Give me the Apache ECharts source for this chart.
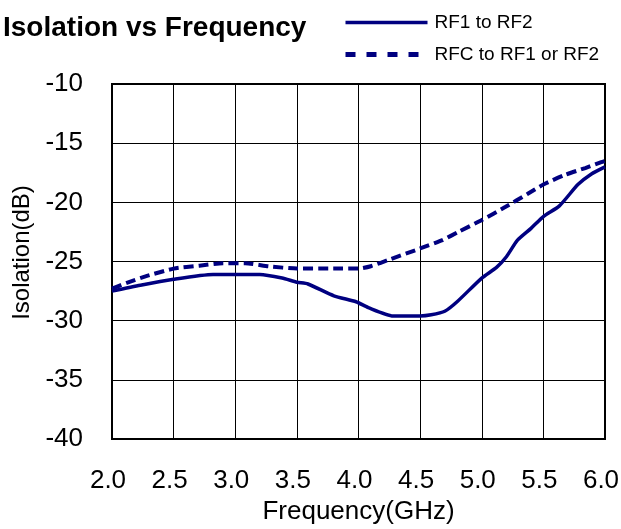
<!DOCTYPE html>
<html>
<head>
<meta charset="utf-8">
<script src="https://cdn.jsdelivr.net/npm/echarts@6/dist/echarts.min.js"></script>
<style>
  html, body { margin: 0; padding: 0; background: #fff; }
  #chart { width: 621px; height: 529px; }
</style>
</head>
<body>
<div id="chart"></div>
<script>
const freqRF1RF2 = [2.0, 2.23, 2.5, 2.82, 3.0, 3.2, 3.38, 3.5, 3.59, 3.8, 3.98, 4.08, 4.28, 4.5, 4.59, 4.7, 4.8, 5.0, 5.12, 5.2, 5.29, 5.4, 5.5, 5.63, 5.78, 5.89, 6.0]
const isoRF1RF2 = [-27.5, -27.0, -26.5, -26.1, -26.1, -26.1, -26.4, -26.75, -26.9, -27.9, -28.4, -28.9, -29.6, -29.6, -29.5, -29.2, -28.4, -26.4, -25.5, -24.6, -23.2, -22.2, -21.2, -20.3, -18.5, -17.6, -17.0]

const freqRFC = [2.0, 2.12, 2.29, 2.5, 2.71, 2.9, 3.08, 3.27, 3.5, 3.8, 4.0, 4.1, 4.26, 4.5, 4.68, 4.81, 5.0, 5.19, 5.37, 5.5, 5.67, 5.84, 5.97, 6.0]
const isoRFC = [-27.3, -26.8, -26.2, -25.6, -25.35, -25.15, -25.15, -25.4, -25.6, -25.6, -25.6, -25.4, -24.8, -23.9, -23.2, -22.5, -21.5, -20.4, -19.3, -18.5, -17.7, -17.1, -16.6, -16.5]

const seriesNames = ['RF1 to RF2', 'RFC to RF1 or RF2']

const navy = '#000080'
const font = 'Liberation Sans, Arial, sans-serif'

function pairs (xs, ys) {
  return xs.map((x, i) => [x, ys[i]])
}

const chart = echarts.init(document.getElementById('chart'), null, { renderer: 'canvas' })

chart.setOption({
  animation: false,
  title: {
    text: 'Isolation vs Frequency',
    left: 3,
    top: 14,
    padding: 0,
    textStyle: { fontFamily: font, fontSize: 28, fontWeight: 'bold', color: '#000' }
  },
  legend: {
    orient: 'vertical',
    left: 343,
    top: 13,
    padding: 0,
    itemWidth: 82,
    itemHeight: 14,
    itemGap: 13,
    itemStyle: { opacity: 0 },
    textStyle: { fontFamily: font, fontSize: 19, color: '#000', padding: [0, 0, 0, 2] },
    data: [
      { name: seriesNames[0], lineStyle: { width: 3.5 } },
      { name: seriesNames[1], lineStyle: { width: 5, type: [10, 11] } }
    ]
  },
  grid: {
    left: 112,
    right: 16,
    top: 84,
    bottom: 90,
    outerBoundsMode: 'none',
    show: true,
    borderColor: '#000',
    borderWidth: 2
  },
  xAxis: {
    type: 'value',
    min: 2,
    max: 6,
    interval: 0.5,
    name: 'Frequency(GHz)',
    nameLocation: 'middle',
    nameGap: 60,
    nameTextStyle: { fontFamily: font, fontSize: 26, color: '#000' },
    axisLine: { show: true, lineStyle: { color: '#000', width: 2 } },
    axisTick: { show: true, inside: true, length: 5, lineStyle: { color: '#000', width: 1 } },
    axisLabel: {
      fontFamily: font, fontSize: 26, color: '#000', margin: 29,
      padding: [0, 8, 0, 0],
      formatter: v => v.toFixed(1)
    },
    splitLine: { show: true, lineStyle: { color: '#000', width: 1 } }
  },
  yAxis: {
    type: 'value',
    min: -40,
    max: -10,
    interval: 5,
    name: 'Isolation(dB)',
    nameLocation: 'middle',
    nameGap: 78,
    nameTextStyle: { fontFamily: font, fontSize: 24, color: '#000', padding: [0, 0, 0, 18] },
    axisLine: { show: true, lineStyle: { color: '#000', width: 2 } },
    axisTick: { show: true, inside: true, length: 4, lineStyle: { color: '#000', width: 1 } },
    axisLabel: { fontFamily: font, fontSize: 26, color: '#000', margin: 29, padding: [6, 0, 0, 0] },
    splitLine: { show: true, lineStyle: { color: '#000', width: 1 } }
  },
  series: [{
    name: seriesNames[0],
    type: 'line',
    data: pairs(freqRF1RF2, isoRF1RF2),
    showSymbol: false,
    symbol: 'none',
    smooth: 0.2,
    itemStyle: { color: navy },
    lineStyle: { color: navy, width: 3.5 }
  }, {
    name: seriesNames[1],
    type: 'line',
    data: pairs(freqRFC, isoRFC),
    showSymbol: false,
    symbol: 'none',
    smooth: 0.2,
    itemStyle: { color: navy },
    lineStyle: { color: navy, width: 4, type: [10, 5] }
  }]
})
</script>
</body>
</html>
